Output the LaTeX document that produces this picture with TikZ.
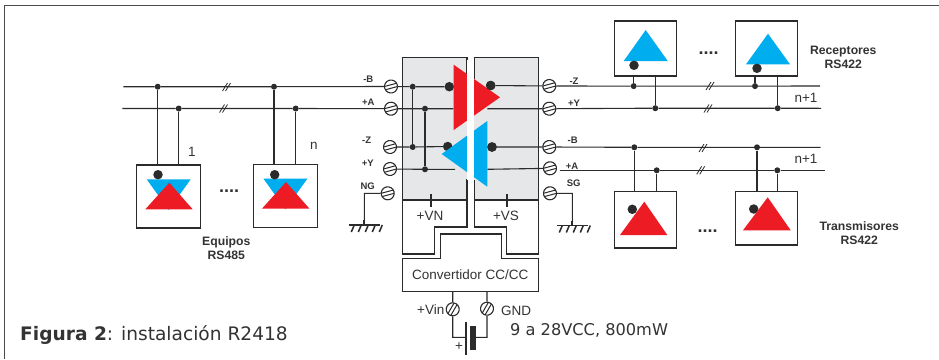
\documentclass[tikz,border=0pt]{standalone}
\usepackage{fontspec}
\setmainfont{Liberation Sans}
\newfontfamily\verd{DejaVu Sans}
\definecolor{rd}{HTML}{ED1C24}
\definecolor{bl}{HTML}{00AEEF}
\definecolor{gy}{HTML}{E6E7E8}
\definecolor{ink}{HTML}{2B2B2B}
\definecolor{tx}{HTML}{333333}
\tikzset{
  wire/.style={draw=ink,line width=1.1bp},
  outl/.style={draw=ink,line width=1.3bp},
  devbox/.style={draw=ink,line width=1.3bp,fill=white,inner sep=0pt,rectangle},
  sdot/.style={circle,fill=ink,inner sep=0pt,minimum size=6bp},
  bdot/.style={circle,fill=ink,inner sep=0pt,minimum size=9.5bp},
  screw/.style={circle,draw=ink,line width=1.1bp,fill=white,inner sep=0pt,minimum size=13bp,
    path picture={\draw[ink,line width=1bp] (path picture bounding box.center)+(-7bp,1.7bp)--+(7bp,1.7bp);
                  \draw[ink,line width=1bp] (path picture bounding box.center)+(-7bp,-1.7bp)--+(7bp,-1.7bp);}},
  lab/.style={font=\fontsize{9.5bp}{10bp}\selectfont\bfseries,text=tx,inner sep=0pt},
  cap2/.style={font=\fontsize{12.2bp}{14bp}\selectfont\bfseries,text=tx,inner sep=0pt,align=center},
  txt/.style={font=\fontsize{13.5bp}{15bp}\selectfont,text=tx,inner sep=0pt},
  dots4/.style={font=\fontsize{18bp}{18bp}\selectfont\bfseries,text=tx,inner sep=0pt},
  dslash/.pic={\draw[ink,line width=.8bp] (-4,4)--(1,-4) (-1,4)--(4,-4);},
  earth/.pic={\draw[ink,line width=1.8] (-15.5,0)--(15.5,0);
    \draw[ink,line width=2bp] (0,-5)--(0,0);
    \foreach \q in {-10,-3,4,11,18}{\draw[ink,line width=1.5bp] (\q,0)--(\q-3,7);}},
}
\begin{document}
\begin{tikzpicture}[x=1bp,y=-1bp]
\useasboundingbox (0,0) rectangle (939,359);
\fill[white] (0,0) rectangle (939,359);
% frame
\draw[draw=ink!85,line width=1.3bp] (4.5,359)--(4.5,5.5)--(939,5.5);
% grey module bodies
\fill[gy] (402.3,57.3) rectangle (467,200);
\fill[gy] (474.3,57.3) rectangle (538.7,200);
% module outlines
\draw[outl] (467,74)--(467,57.3)--(402.3,57.3)--(402.3,254)--(434.3,254)--(434.3,226.9)--(467,226.9)--(467,179);
\draw[outl] (474.3,79)--(474.3,57.3)--(538.7,57.3)--(538.7,254)--(506.7,254)--(506.7,226.9)--(474.3,226.9)--(474.3,180);
\draw[outl] (402.3,200)--(467,200);
\draw[outl] (474.3,200)--(538.7,200);
% converter
\draw[outl] (402.3,258.3)--(440.7,258.3)--(440.7,234)--(501.7,234)--(501.7,258.3)--(538.7,258.3)--(538.7,291.3)--(402.3,291.3)--cycle;
\node[txt] (conv) at (470.3,275) {Convertidor CC/CC};
% terminals
\node[screw,rotate=15] (lB) at (391,86.5) {};
\node[screw,rotate=15] (lA) at (391,108.7) {};
\node[screw,rotate=15] (lZ) at (390,147) {};
\node[screw,rotate=15] (lY) at (390,169) {};
\node[screw,rotate=15] (lG) at (387.7,193.3) {};
\node[screw,rotate=15] (rZ) at (549.3,86) {};
\node[screw,rotate=15] (rY) at (549.3,108.7) {};
\node[screw,rotate=15] (rB) at (549.3,147) {};
\node[screw,rotate=15] (rA) at (550,168.3) {};
\node[screw,rotate=15] (rG) at (550,193.3) {};
\node[screw,rotate=60] (vin) at (452.7,309.3) {};
\node[screw,rotate=60] (gnd) at (487,308.7) {};
% devices
\node[devbox,minimum width=64bp,minimum height=63bp] (e1) at (168.7,196.5) {};
\node[devbox,minimum width=64bp,minimum height=63bp] (e2) at (285.3,195.7) {};
\node[devbox,minimum width=62bp,minimum height=55bp] (r1) at (645.7,48.5) {};
\node[devbox,minimum width=62bp,minimum height=55bp] (r2) at (766.3,48.5) {};
\node[devbox,minimum width=62bp,minimum height=56.7bp] (t1) at (645.7,219.7) {};
\node[devbox,minimum width=61.6bp,minimum height=53.7bp] (t2) at (766.5,218.2) {};
% device symbols
\fill[bl] (146.7,179.3)--(190.7,179.3)--(168.7,210)--cycle;
\fill[rd] (145.3,209.3)--(192.7,209.3)--(169.3,182.7)--cycle;
\fill[bl] (263.4,178.6)--(307.4,178.6)--(285.4,209.3)--cycle;
\fill[rd] (262,208.6)--(309.4,208.6)--(286,182)--cycle;
\fill[bl] (623.7,61)--(667.7,61)--(645.7,30)--cycle;
\fill[bl] (746,64.3)--(790,64.3)--(768,33.7)--cycle;
\node[bdot] (de1) at (158,174.7) {};
\node[bdot] (de2) at (274.7,174.7) {};
\node[bdot] (dr1) at (634,65.3) {};
\node[bdot] (dr2) at (757,68.3) {};
\node[bdot] (dt1) at (632.3,209.3) {};
\node[bdot] (dt2) at (753.7,209) {};
\fill[rd] (620,235)--(667.3,235)--(644.3,201.7)--cycle;
\fill[rd] (743,230.3)--(790.7,230.3)--(767.7,197.3)--cycle;
% bus ends and junctions
\coordinate (LB) at (123.3,86.7);
\coordinate (LA) at (122.3,108.5);
\coordinate (RZ) at (820,86);
\coordinate (RY) at (821,108.3);
\coordinate (RB) at (820.7,147.3);
\coordinate (RA) at (825,170.3);
\node[sdot] (j1) at (157.7,86.7) {};
\node[sdot] (j2) at (178.7,108.5) {};
\node[sdot] (j3) at (274,86.7) {};
\node[sdot] (j4) at (295.7,108.5) {};
\node[sdot] (j5) at (412.7,86.7) {};
\node[sdot] (j6) at (425,108.7) {};
\node[sdot] (j7) at (412.7,147) {};
\node[sdot] (j8) at (425,169.3) {};
\node[sdot] (j9) at (633.7,86.1) {};
\node[sdot] (j10) at (755,86.1) {};
\node[sdot] (j11) at (655.3,108.2) {};
\node[sdot] (j12) at (777.7,108.2) {};
\node[sdot] (j13) at (634.3,147.3) {};
\node[sdot] (j14) at (757,147.3) {};
\node[sdot] (j15) at (656.7,170.3) {};
\node[sdot] (j16) at (777.3,170.3) {};
% core dots
\node[bdot] (cB) at (449.3,86.7) {};
\node[bdot] (cZ) at (447.7,146.5) {};
\node[bdot] (cr1) at (490.7,85.5) {};
\node[bdot] (cr2) at (492,147) {};
\coordinate (cA) at (453.3,108.7);
\coordinate (cY) at (455,169.3);
\coordinate (crY) at (487.3,108.7);
\coordinate (crA) at (487.3,169.3);
% wires
\draw[wire] (LB)--(j1)--(j3)--(lB)--(j5)--(cB);
\draw[wire] (LA)--(j2)--(j4)--(lA)--(j6)--(cA);
\draw[wire] (lZ)--(j7)--(cZ);
\draw[wire] (lY)--(j8)--(cY);
\draw[wire] (j5)--(j7);
\draw[wire] (j6)--(j8);
\draw[wire] (cr1)--(rZ)--(j9)--(j10)--(RZ);
\draw[wire] (crY)--(rY)--(j11)--(j12)--(RY);
\draw[wire] (cr2)--(rB)--(j13)--(j14)--(RB);
\draw[wire] (crA)--(rA);
\coordinate (rAo) at (560,170.3);
\draw[wire] (rAo)--(j15)--(j16)--(RA);
\draw[wire] (j1)--(j1 |- e1.north);
\draw[wire] (j2)--(j2 |- e1.north);
\draw[wire] (j3)--(j3 |- e2.north);
\draw[wire] (j4)--(j4 |- e2.north);
\draw[wire] (j9)--(j9 |- r1.south);
\draw[wire] (j11)--(j11 |- r1.south);
\draw[wire] (j10)--(j10 |- r2.south);
\draw[wire] (j12)--(j12 |- r2.south);
\draw[wire] (j13)--(j13 |- t1.north);
\draw[wire] (j15)--(j15 |- t1.north);
\draw[wire] (j14)--(j14 |- t2.north);
\draw[wire] (j16)--(j16 |- t2.north);
% core triangles
\fill[rd] (453.7,64.7)--(500,97.3)--(453.7,130)--cycle;
\fill[bl] (441.7,154)--(487.3,121)--(487.3,186.7)--cycle;
\fill[white] (467,60)--(474.3,60)--(474.3,179.5)--(467,179.5)--cycle;
% redraw dots above the red triangle edge
\node[bdot] (cr1b) at (490.7,85.5) {};
\node[bdot] (cr2b) at (492,147) {};
% ticks
\coordinate (tl) at (431,194.3);
\coordinate (tr) at (507,194.3);
\draw[wire] (tl)--(tl |- 0,206.7);
\draw[wire] (tr)--(tr |- 0,206.7);
% earth
\coordinate (el) at (364.3,225);
\coordinate (er) at (572.3,225.5);
\coordinate (elc) at (364.3,193.3);
\coordinate (erc) at (572.3,193.3);
\draw[wire] (lG)--(elc)--(el);
\draw[wire] (rG)--(erc)--(er);
\pic at (el) {earth};
\pic at (er) {earth};
% battery
\coordinate (vt) at (452.7,291.3);
\coordinate (gt) at (487,291.3);
\coordinate (vb) at (452.7,337.3);
\coordinate (gb) at (487,337.3);
\coordinate (pl) at (466,337.3);
\coordinate (nl) at (475,337.3);
\draw[wire] (vt)--(vin);
\draw[wire] (gt)--(gnd);
\draw[wire] (vin)--(vb)--(pl);
\draw[wire] (gnd)--(gb)--(nl);
\draw[ink,line width=1.4bp] (466,321.7)--(466,355);
\fill[ink] (470,326) rectangle (475.7,350);
% break marks
\pic at (226.5,87) {dslash};
\pic at (223.5,108.5) {dslash};
\pic at (710,86) {dslash};
\pic at (708,108.5) {dslash};
\pic at (703,148) {dslash};
\pic at (700.7,170.3) {dslash};
% labels
\node[lab] (t1a) at (368.3,79.3) {-B};
\node[lab] (t1b) at (368.3,102.3) {+A};
\node[lab] (t1c) at (366.7,140.7) {-Z};
\node[lab] (t1d) at (367.7,163.3) {+Y};
\node[lab] (t1e) at (367.7,186.7) {NG};
\node[lab] (t2a) at (574,81.3) {-Z};
\node[lab] (t2b) at (574,103.3) {+Y};
\node[lab] (t2c) at (572.7,140) {-B};
\node[lab] (t2d) at (572,166) {+A};
\node[lab] (t2e) at (573.7,183.3) {SG};
\node[txt] (vn) at (430,216) {+VN};
\node[txt] (vs) at (506,216) {+VS};
\node[txt] (n1) at (192,151.7) {1};
\node[txt] (n2) at (314,146) {n};
\node[txt] (n3) at (806,98.3) {n+1};
\node[txt] (n4) at (806,159) {n+1};
\node[cap2] (c1) at (226.3,248) {Equipos\\RS485};
\node[cap2] (c2) at (843.3,57.5) {Receptores\\RS422};
\node[cap2] (c3) at (859.3,233) {Transmisores\\RS422};
\node[dots4] (d1) at (229,191.5) {....};
\node[dots4] (d2) at (708.5,53.5) {....};
\node[dots4] (d3) at (707.5,231.5) {....};
\node[txt] (lv) at (430.7,310) {+Vin};
\node[txt] (lg) at (516,311.3) {GND};
\node[txt] (lp) at (459,346.7) {+};
\node[anchor=west,inner sep=0pt,text=tx,font=\verd\fontsize{16.2bp}{18bp}\selectfont] (sup) at (510,330.7) {9 a 28VCC, 800mW};
\node[anchor=west,inner sep=0pt,text=tx,font=\verd\fontsize{18.6bp}{20bp}\selectfont] (fig) at (20,335) {\textbf{Figura 2}: instalación R2418};
\end{tikzpicture}
\end{document}
